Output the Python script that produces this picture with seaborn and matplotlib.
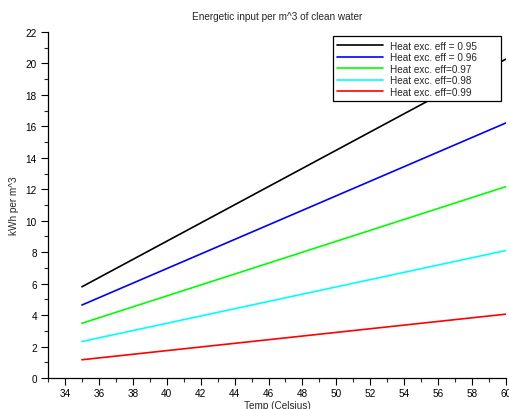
import matplotlib
matplotlib.use("Agg")
import matplotlib.pyplot as plt
import seaborn as sns
import pandas as pd
from matplotlib.ticker import MultipleLocator

temps = [35, 60]
labels = ["Heat exc. eff = 0.95", "Heat exc. eff = 0.96", "Heat exc. eff=0.97",
          "Heat exc. eff=0.98", "Heat exc. eff=0.99"]
eff_095 = [5.80, 20.28]
eff_096 = [4.64, 16.22]
eff_097 = [3.48, 12.17]
eff_098 = [2.32, 8.11]
eff_099 = [1.16, 4.06]
colors = ["#000000", "#0000ff", "#00ff00", "#00ffff", "#ff0000"]

rows = []
for lab, vals in zip(labels, [eff_095, eff_096, eff_097, eff_098, eff_099]):
    for t, v in zip(temps, vals):
        rows.append({"Temp": t, "kWh": v, "series": lab})
df = pd.DataFrame(rows)

sns.set_style("ticks")
plt.rcParams["font.family"] = ["Liberation Sans", "DejaVu Sans"]

fs = 7.2
fig = plt.figure(figsize=(5.09, 4.10), dpi=100)
ax = fig.add_axes([48/509, 31/410, 458/509, 346/410])

sns.lineplot(data=df, x="Temp", y="kWh", hue="series", palette=colors,
             hue_order=labels, ax=ax, linewidth=1.2, legend=False)

ax.set_xlim(33, 60)
ax.set_ylim(0, 22)
ax.xaxis.set_major_locator(MultipleLocator(2))
ax.xaxis.set_minor_locator(MultipleLocator(1))
ax.yaxis.set_major_locator(MultipleLocator(2))
ax.yaxis.set_minor_locator(MultipleLocator(1))
ax.tick_params(which="major", length=5, width=0.8, labelsize=fs, direction="out", pad=3, colors="black")
ax.tick_params(axis="x", which="major", pad=2)
ax.tick_params(which="minor", length=3, width=0.8, direction="out")
for s in ["top", "right"]:
    ax.spines[s].set_visible(False)
for s in ["left", "bottom"]:
    ax.spines[s].set_linewidth(0.9)
    ax.spines[s].set_color("black")

ax.set_title("Energetic input per m^3 of clean water", fontsize=fs, pad=9)
ax.set_xlabel("Temp (Celsius)", fontsize=fs, labelpad=1.5)
ax.set_ylabel("kWh per m^3", fontsize=fs, labelpad=5)

handles = [plt.Line2D([], [], color=c, linewidth=1.2) for c in colors]
leg = ax.legend(handles, labels, loc="upper left", bbox_to_anchor=(0.622, 0.803, 0.367, 0.185),
                mode="expand", fontsize=fs, frameon=True, fancybox=False, framealpha=1,
                edgecolor="black", handlelength=4.6, handletextpad=0.7,
                labelspacing=0.15, borderpad=0.45, borderaxespad=0)
leg.get_frame().set_linewidth(0.9)
leg.set_zorder(5)

fig.savefig("out.png", dpi=100)
